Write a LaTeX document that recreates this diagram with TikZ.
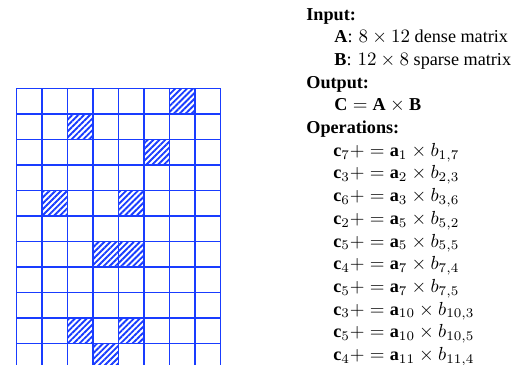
\documentclass[tikz,border=0pt]{standalone}
\usepackage{amsmath}
\usepackage{fontspec}
\setmainfont{Liberation Serif}
\usetikzlibrary{patterns.meta}
\definecolor{gridblue}{RGB}{25,60,255}

\begin{document}
\begin{tikzpicture}[x=0.5282pt,y=-0.5282pt,
  font=\fontsize{9.6}{11.5}\selectfont,
  cell/.style={draw=gridblue,line width=0.75pt},
  nz/.style={pattern={Lines[angle=45,distance=2.2pt,line width=1pt]},
             pattern color=gridblue},
  head/.style={anchor=base west,inner sep=0pt,font=\fontsize{9.6}{11.5}\selectfont\bfseries},
  item/.style={anchor=base west,inner sep=0pt}]
\useasboundingbox (0,0) rectangle (515,364);
% sparse matrix B (12 x 8), non-zeros hatched
\begin{scope}[shift={(16.3,88.3)},x=13.47pt,y=-13.47pt]
  \foreach \r/\c in {1/7,2/3,3/6,5/2,5/5,7/4,7/5,10/3,10/5,11/4}
    \fill[nz] (\c-1,\r-1) rectangle (\c,\r);
  \foreach \c in {0,...,8}
    \draw[cell] (\c,0) -- (\c,12);
  \foreach \r in {0,...,12}
    \draw[cell] (0,\r) -- (8,\r);
\end{scope}
% description
\node[head] (in) at (306,20) {Input:};
\node[item] (a) at (334,42.7) {$\mathbf{A}$: $8\times 12$ dense matrix};
\node[item] (b) at (334,65.4) {$\mathbf{B}$: $12\times 8$ sparse matrix};
\node[head] (out) at (306,88.1) {Output:};
\node[item] (c) at (334,110.8) {$\mathbf{C}=\mathbf{A}\times\mathbf{B}$};
\node[head] (ops) at (306,133.5) {Operations:};
\foreach \k/\i/\j [count=\n] in {7/1/7,3/2/3,6/3/6,2/5/2,5/5/5,4/7/4,5/7/5,3/10/3,5/10/5,4/11/4}
  \node[item] (op\n) at (333,133.5+22.7*\n)
    {$\mathbf{c}_{\k} += \mathbf{a}_{\i}\times b_{\i,\j}$};
\end{tikzpicture}
\end{document}
